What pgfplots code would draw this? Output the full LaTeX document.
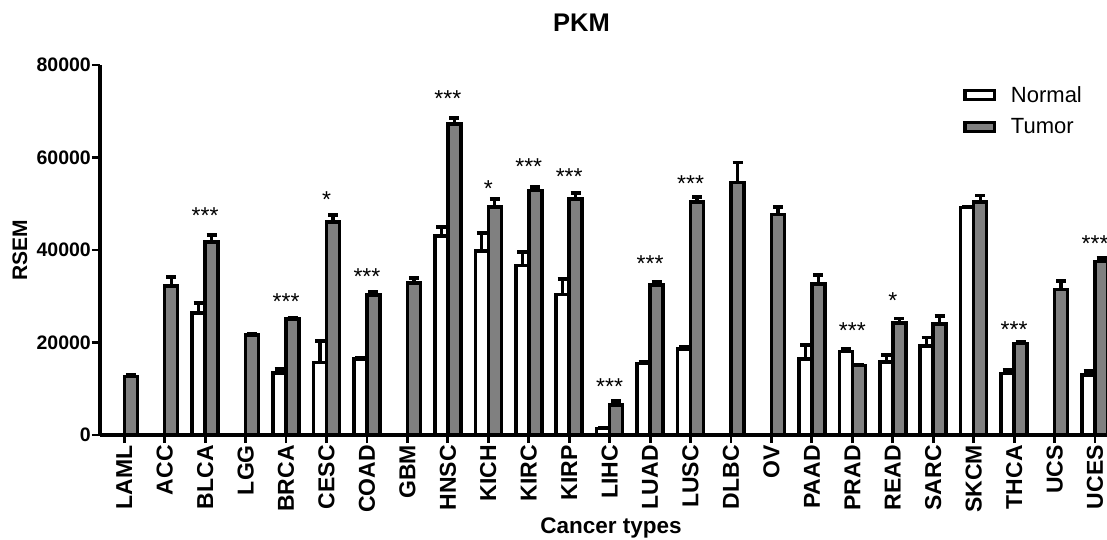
\documentclass[border=0pt]{standalone}
\usepackage{pgfplots}
\pgfplotsset{compat=1.18}
\usepackage{fontspec}
\setmainfont{Liberation Sans}
\definecolor{tumorgray}{RGB}{128,128,128}
\begin{document}
\begin{tikzpicture}[x=1pt,y=1pt, sig/.style={anchor=base, inner sep=0pt, font=\fontsize{23}{24}\selectfont}]
\path[use as bounding box] (0,0) rectangle (1107,539);
\begin{axis}[
  at={(100pt,104pt)}, anchor=south west,
  scale only axis, width=1019.3pt, height=370pt,
  xmin=-0.6, xmax=24.6, ymin=0, ymax=80000,
  axis x line=bottom, axis y line=left,
  axis line style={-, line width=3.2pt},
  every tick/.style={black, line width=2.8pt},
  tick align=outside, major tick length=8pt,
  xtick={0,...,24},
  xticklabels={LAML,ACC,BLCA,LGG,BRCA,CESC,COAD,GBM,HNSC,KICH,KIRC,KIRP,LIHC,LUAD,LUSC,DLBC,OV,PAAD,PRAD,READ,SARC,SKCM,THCA,UCS,UCES},
  xticklabel style={rotate=90, anchor=east, font=\bfseries\fontsize{23}{24}\selectfont, inner sep=2pt},
  ytick={0,20000,40000,60000,80000},
  scaled y ticks=false,
  /pgf/number format/1000 sep={},
  /pgf/number format/assume math mode=true,
  yticklabel style={font=\bfseries\fontsize{19.5}{20}\selectfont, inner sep=1pt},
  clip=false,
  legend style={at={(0.8467,0.949)}, anchor=north west, draw=none, fill=none,
    font=\fontsize{22}{24}\selectfont, row sep=11pt, inner sep=0pt,
    cells={anchor=west}},
]
\addplot[ybar, bar width=13pt, bar shift=0pt, draw=black, fill=white, line width=3.5pt,
  error bars/.cd, y dir=plus, y explicit, error mark=|,
  error bar style={line width=3.2pt, black},
  error mark options={line width=3.8pt, mark size=5pt, black},
  /pgfplots/legend image code/.code={\draw[black, fill=white, line width=3.5pt] (1.75pt,-4.5pt) rectangle (31.25pt,4.5pt); \path (44pt,0pt);}]
  table[x expr=\thisrow{x}-0.1607, y=y, y error=e] {
x y e
2 26400 2100
4 13400 900
5 15700 4700
6 16400 300
8 43000 1900
9 39800 3800
10 36700 2800
11 30400 3400
12 1400 200
13 15500 400
14 18600 500
17 16400 3000
18 18100 600
19 15800 1500
20 19200 1900
21 49200 200
22 13300 700
24 13000 900
};
\addlegendentry{Normal}
\addplot[ybar, bar width=13pt, bar shift=0pt, draw=black, fill=tumorgray, line width=3.5pt,
  error bars/.cd, y dir=plus, y explicit, error mark=|,
  error bar style={line width=3.2pt, black},
  error mark options={line width=3.8pt, mark size=5pt, black},
  /pgfplots/legend image code/.code={\draw[black, fill=tumorgray, line width=3.5pt] (1.75pt,-4.5pt) rectangle (31.25pt,4.5pt); \path (44pt,0pt);}]
  table[x expr=\thisrow{x}+0.1607, y=y, y error=e] {
x y e
0 12600 300
1 32200 2000
2 41700 1600
3 21600 300
4 25100 300
5 46100 1500
6 30300 700
7 32900 1000
8 67200 1400
9 49300 1800
10 52900 700
11 51000 1300
12 6500 900
13 32400 800
14 50400 1100
15 54600 4300
16 47700 1600
17 32700 1900
18 15000 200
19 24200 1000
20 24000 1700
21 50400 1400
22 19800 400
23 31500 1800
24 37500 700
};
\addlegendentry{Tumor}
\node[sig] at (axis cs:2,45800) {***};
\node[sig] at (axis cs:4,27200) {***};
\node[sig] at (axis cs:5,49100) {*};
\node[sig] at (axis cs:6,32500) {***};
\node[sig] at (axis cs:8,71100) {***};
\node[sig] at (axis cs:9,51600) {*};
\node[sig] at (axis cs:10,56300) {***};
\node[sig] at (axis cs:11,54100) {***};
\node[sig] at (axis cs:12,8700) {***};
\node[sig] at (axis cs:13,35400) {***};
\node[sig] at (axis cs:14,52700) {***};
\node[sig] at (axis cs:18,20800) {***};
\node[sig] at (axis cs:19,27300) {*};
\node[sig] at (axis cs:22,21000) {***};
\node[sig] at (axis cs:24,39700) {***};
\end{axis}
\node[font=\bfseries\fontsize{25.5}{26}\selectfont] at (581.5,516.5) {PKM};
\node[font=\bfseries\fontsize{22.5}{23}\selectfont, anchor=base] at (611,6) {Cancer types};
\node[font=\bfseries\fontsize{21}{22}\selectfont, rotate=90] at (20,289) {RSEM};
\end{tikzpicture}
\end{document}
